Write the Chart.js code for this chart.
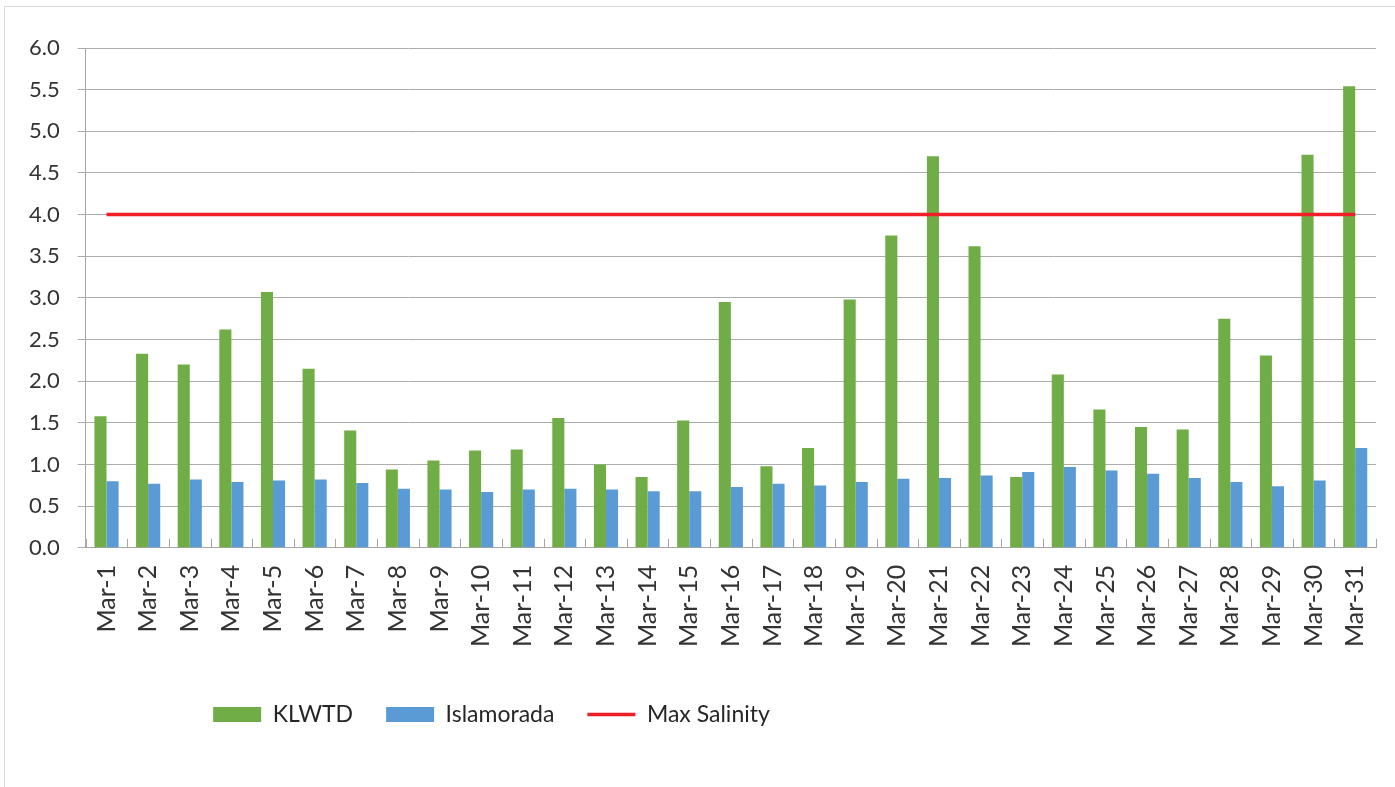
<!DOCTYPE html>
<html>
<head>
<meta charset="utf-8">
<title>Salinity - March</title>
<script src="https://cdn.jsdelivr.net/npm/chart.js@4.4.1/dist/chart.umd.min.js"></script>
<style>
    html, body { margin: 0; padding: 0; background: #fff; overflow: hidden; }
    .frame { position: absolute; left: 4px; top: 6px; width: 1420px; height: 820px; border: 1px solid #d9d9d9; }
    .wrap { position: absolute; left: 0; top: 0; width: 1395px; height: 787px; }
</style>
</head>
<body>
<div class="frame"></div>
<div class="wrap"><canvas id="salinityChart" width="1395" height="787"></canvas></div>
<script>
// data
const days = [
    'Mar-1', 'Mar-2', 'Mar-3', 'Mar-4', 'Mar-5', 'Mar-6', 'Mar-7', 'Mar-8',
    'Mar-9', 'Mar-10', 'Mar-11', 'Mar-12', 'Mar-13', 'Mar-14', 'Mar-15', 'Mar-16',
    'Mar-17', 'Mar-18', 'Mar-19', 'Mar-20', 'Mar-21', 'Mar-22', 'Mar-23', 'Mar-24',
    'Mar-25', 'Mar-26', 'Mar-27', 'Mar-28', 'Mar-29', 'Mar-30', 'Mar-31'
];
const klwtd = [
    1.58, 2.33, 2.20, 2.62, 3.07, 2.15, 1.41, 0.94,
    1.05, 1.17, 1.18, 1.56, 1.00, 0.85, 1.53, 2.95,
    0.98, 1.20, 2.98, 3.75, 4.70, 3.62, 0.85, 2.08,
    1.66, 1.45, 1.42, 2.75, 2.31, 4.72, 5.54
];
const islamorada = [
    0.80, 0.77, 0.82, 0.79, 0.81, 0.82, 0.78, 0.71,
    0.70, 0.67, 0.70, 0.71, 0.70, 0.68, 0.68, 0.73,
    0.77, 0.75, 0.79, 0.83, 0.84, 0.87, 0.91, 0.97,
    0.93, 0.89, 0.84, 0.79, 0.74, 0.81, 1.20
];
const maxSalinity = 4.0;
const yTicks = [0, 0.5, 1, 1.5, 2, 2.5, 3, 3.5, 4, 4.5, 5, 5.5, 6];

Chart.defaults.font.family = 'Lato, "Noto Sans", sans-serif';
Chart.defaults.color = '#333';

// small tick marks between categories, sitting on the x axis (like Excel)
const categoryTicks = {
    id: 'categoryTicks',
    afterDatasetsDraw(chart) {
        const x = chart.scales.x;
        const ctx = chart.ctx;
        const n = x.ticks.length;
        const step = x.width / n;
        ctx.save();
        ctx.strokeStyle = '#a6a6a6';
        ctx.lineWidth = 1;
        ctx.beginPath();
        for (let i = 0; i <= n; i++) {
            const px = Math.round(x.left + i * step) + 0.5;
            ctx.moveTo(px, x.top);
            ctx.lineTo(px, x.top - 9);
        }
        ctx.stroke();
        ctx.restore();
    }
};

// legend sits left of centre in the original
const legendShift = {
    id: 'legendShift',
    afterLayout(chart) {
        chart.legend.left -= 202;
        chart.legend.right -= 202;
    }
};

new Chart(document.getElementById('salinityChart'), {
    type: 'bar',
    data: {
        labels: days,
        datasets: [
            {
                label: 'KLWTD',
                data: klwtd,
                backgroundColor: '#70ad47',
                pointStyle: 'rect',
                order: 2
            },
            {
                label: 'Islamorada',
                data: islamorada,
                backgroundColor: '#5b9bd5',
                pointStyle: 'rect',
                order: 2
            },
            {
                type: 'line',
                label: 'Max Salinity',
                data: days.map(() => maxSalinity),
                borderColor: '#f01e26',
                backgroundColor: '#f01e26',
                borderWidth: 3.5,
                pointRadius: 0,
                pointStyle: 'line',
                order: 1
            }
        ]
    },
    options: {
        responsive: false,
        animation: false,
        categoryPercentage: 0.58,
        barPercentage: 1.0,
        layout: {
            padding: { left: 11, right: 19, top: 48, bottom: 51 }
        },
        scales: {
            x: {
                grid: { display: false, drawTicks: false },
                border: { color: '#a6a6a6' },
                ticks: {
                    minRotation: 90,
                    maxRotation: 90,
                    padding: 17,
                    font: { size: 25 },
                    color: '#333'
                },
                afterFit(axis) {
                    axis.height += 6;
                    // the rotated last label does not need extra room on the right
                    axis.paddingRight = 0;
                }
            },
            y: {
                min: 0,
                max: 6,
                afterBuildTicks(axis) {
                    axis.ticks = yTicks.map(v => ({ value: v }));
                },
                grid: { color: '#acacac', tickLength: 8 },
                border: { color: '#a6a6a6' },
                ticks: {
                    padding: 18,
                    font: { size: 22 },
                    color: '#333',
                    callback: v => Number(v).toFixed(1)
                }
            }
        },
        plugins: {
            legend: {
                position: 'bottom',
                labels: {
                    usePointStyle: true,
                    pointStyleWidth: 48,
                    boxHeight: 15,
                    padding: 33,
                    font: { size: 23 },
                    color: '#262626',
                    sort: (a, b) => a.datasetIndex - b.datasetIndex
                }
            },
            tooltip: { enabled: false }
        }
    },
    plugins: [categoryTicks, legendShift]
});
</script>
</body>
</html>
